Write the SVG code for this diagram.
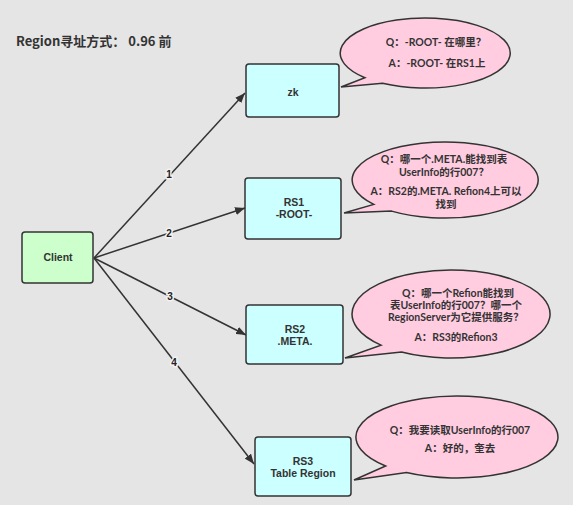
<svg xmlns="http://www.w3.org/2000/svg" width="573" height="505" viewBox="0 0 573 505">
<defs>
<marker id="arr" markerWidth="10" markerHeight="8" refX="10" refY="4" orient="auto" markerUnits="userSpaceOnUse">
<path d="M0,0 L10,4 L0,8 Z" fill="#333"/>
</marker>
<style>
.t{font-family:"Noto Sans CJK SC","Liberation Sans",sans-serif;font-weight:bold;fill:#333;text-anchor:middle}
.q{font-family:"Lato","Noto Sans CJK SC",sans-serif;font-weight:bold;fill:#333;text-anchor:middle;font-size:10.5px}
.n{font-family:"Liberation Sans",sans-serif;font-weight:bold;fill:#333;text-anchor:middle;font-size:10.5px}
.box{fill:#ccffff;stroke:#333;stroke-width:1.5}
.cl{fill:#ccffcc;stroke:#333;stroke-width:1.5}
.bub{fill:#ffcce0;stroke:#333;stroke-width:1.5}
.ln{stroke:#333;stroke-width:1.5;fill:none}
.lb{font-family:"Liberation Sans",sans-serif;font-weight:bold;font-size:10px;fill:#222;text-anchor:middle;paint-order:stroke;stroke:#f2f2f2;stroke-width:3}
</style>
</defs>
<rect width="573" height="505" fill="#e5e5e5"/>
<text x="16" y="46" class="t" style="text-anchor:start;font-size:13px">Region寻址方式：  0.96 前</text>

<g id="connectors">
<line class="ln" x1="94" y1="258" x2="245" y2="93" marker-end="url(#arr)"/>
<line class="ln" x1="94" y1="258" x2="245" y2="208" marker-end="url(#arr)"/>
<line class="ln" x1="94" y1="258" x2="246" y2="335" marker-end="url(#arr)"/>
<line class="ln" x1="94" y1="258" x2="254" y2="464" marker-end="url(#arr)"/>
<text class="lb" x="169" y="178">1</text>
<text class="lb" x="169" y="237">2</text>
<text class="lb" x="170" y="300">3</text>
<text class="lb" x="174" y="366">4</text>
</g>

<g id="client">
<rect class="cl" x="22" y="232" width="71" height="51" rx="3"/>
<text class="n" x="58" y="261">Client</text>
</g>
<g id="zk">
<rect class="box" x="246" y="64" width="93" height="53" rx="3"/>
<text class="n" x="293" y="96" font-size="11">zk</text>
</g>
<g id="rs1">
<rect class="box" x="245" y="178" width="96" height="61" rx="3"/>
<text class="n" x="294" y="206">RS1</text>
<text class="n" x="294" y="218">-ROOT-</text>
</g>
<g id="rs2">
<rect class="box" x="246" y="305" width="97" height="59" rx="3"/>
<text class="n" x="295" y="333">RS2</text>
<text class="n" x="295" y="345">.META.</text>
</g>
<g id="rs3">
<rect class="box" x="255" y="437" width="96" height="59" rx="3"/>
<text class="n" x="303" y="465">RS3</text>
<text class="n" x="303" y="477">Table  Region</text>
</g>

<g id="bubble1">
<path class="bub" d="M382.5,83.3 A85 35 0 1 0 364.9,77.7 L341,87 Z"/>
<text class="q" x="436" y="46">Q：-ROOT- 在哪里？</text>
<text class="q" x="437" y="67">A：-ROOT- 在RS1上</text>
</g>
<g id="bubble2">
<path class="bub" d="M391.6,211.1 A93 38 0 1 0 373.8,204.4 L344,213 Z"/>
<text class="q" x="444" y="163">Q：哪一个.META.能找到表</text>
<text class="q" x="444" y="176">UserInfo的行007？</text>
<text class="q" x="446" y="195">A：RS2的.META. Refion4上可以</text>
<text class="q" x="446" y="208">找到</text>
</g>
<g id="bubble3">
<path class="bub" d="M401.5,352.1 A99 44 0 1 0 381,345.1 L345,358 Z"/>
<text class="q" x="458" y="297">Q：哪一个Refion能找到</text>
<text class="q" x="456" y="309">表UserInfo的行007？哪一个</text>
<text class="q" x="456" y="321">RegionServer为它提供服务？</text>
<text class="q" x="456" y="341">A：RS3的Refion3</text>
</g>
<g id="bubble4">
<path class="bub" d="M406.5,472.5 A101 41 0 1 0 385.6,466 L354,480 Z"/>
<text class="q" x="460" y="434">Q：我要读取UserInfo的行007</text>
<text class="q" x="460" y="452">A：好的，奎去</text>
</g>
</svg>
